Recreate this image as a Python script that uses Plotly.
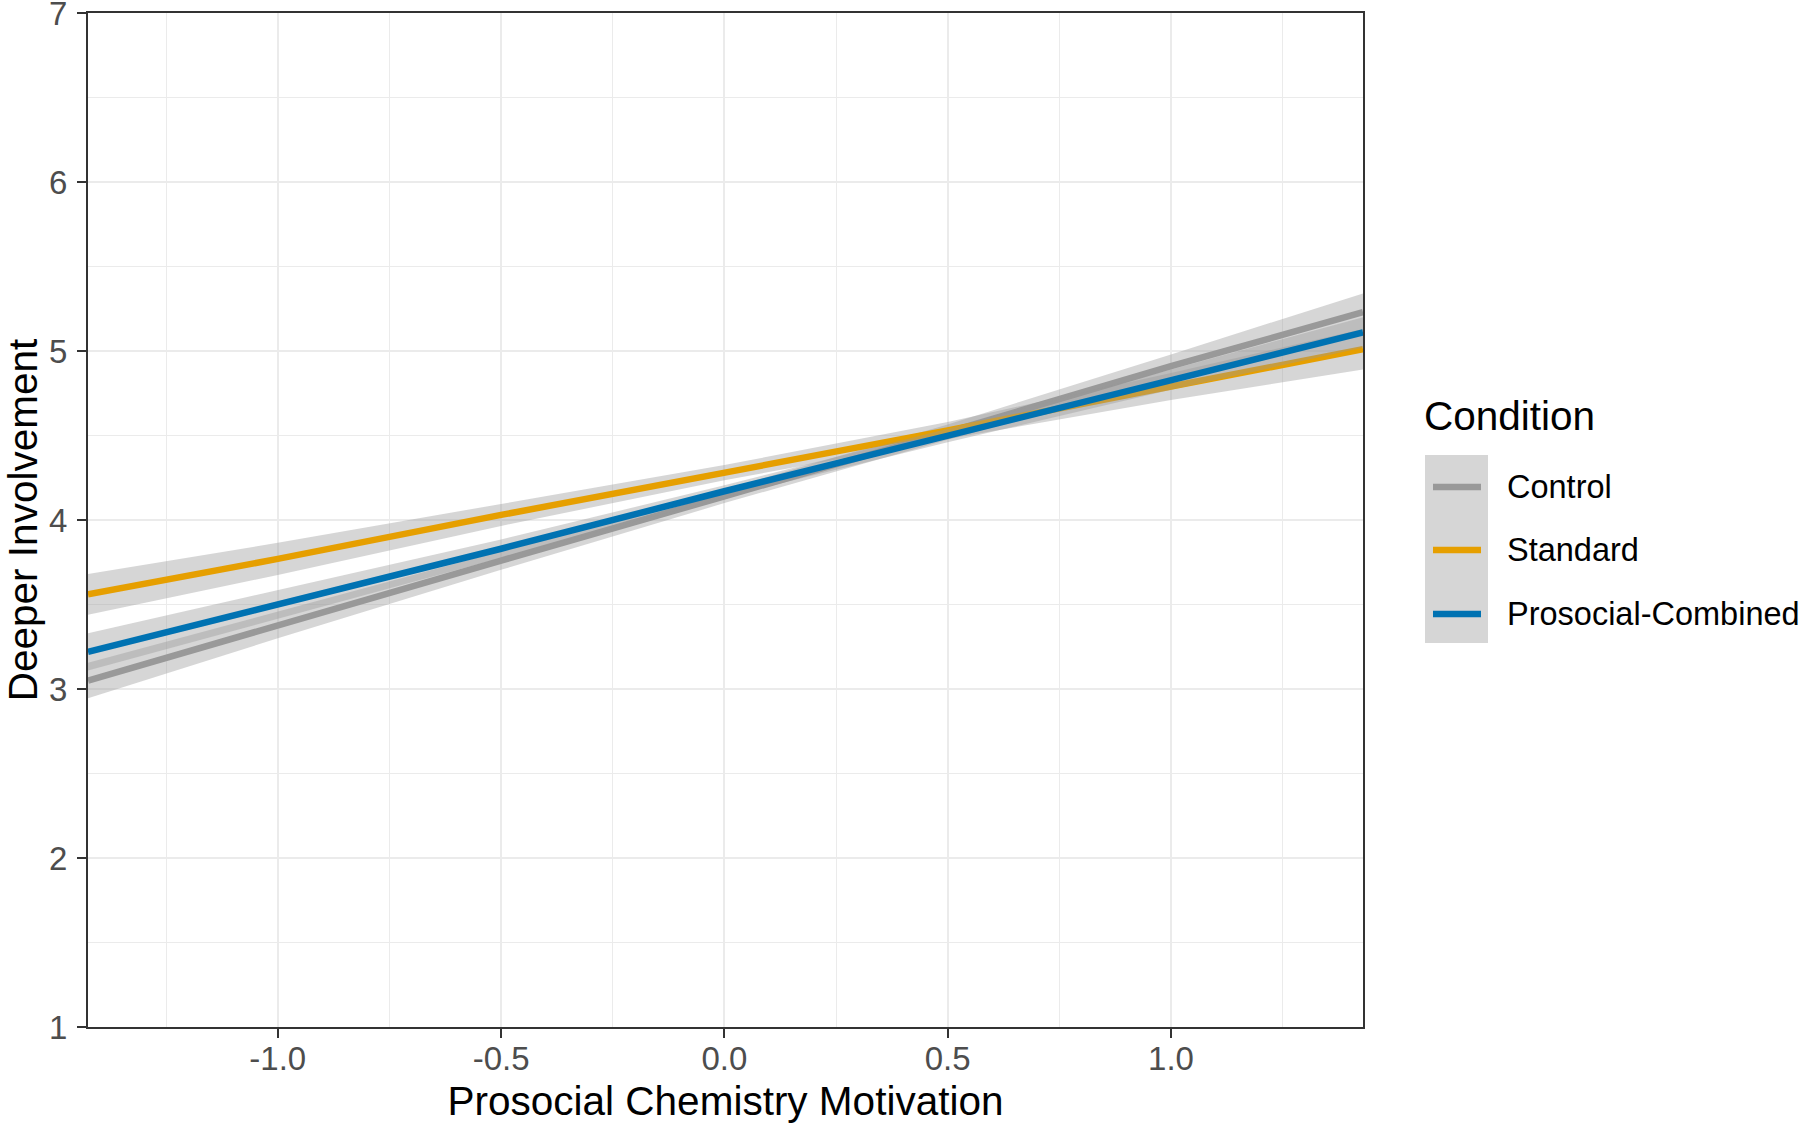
import plotly.graph_objects as go

# ---------------- data ----------------
conditions = ["Control", "Standard", "Prosocial-Combined"]
x_pts = [-1.425, -1.0, -0.5, 0.0, 0.5, 1.0, 1.43]

control_fit = [3.05, 3.38, 3.76, 4.14, 4.52, 4.91, 5.23]
control_lo = [2.945, 3.30, 3.705, 4.10, 4.475, 4.84, 5.12]
control_hi = [3.155, 3.46, 3.815, 4.18, 4.565, 4.98, 5.34]

standard_fit = [3.56, 3.77, 4.03, 4.28, 4.53, 4.79, 5.01]
standard_lo = [3.44, 3.675, 3.965, 4.235, 4.48, 4.71, 4.89]
standard_hi = [3.68, 3.865, 4.095, 4.325, 4.58, 4.87, 5.13]

prosocial_fit = [3.22, 3.50, 3.83, 4.17, 4.50, 4.83, 5.11]
prosocial_lo = [3.11, 3.415, 3.775, 4.135, 4.46, 4.77, 5.02]
prosocial_hi = [3.33, 3.585, 3.885, 4.205, 4.54, 4.89, 5.20]

x_ticks = [-1.0, -0.5, 0.0, 0.5, 1.0]
x_tick_labels = ["-1.0", "-0.5", "0.0", "0.5", "1.0"]
y_ticks = [1, 2, 3, 4, 5, 6, 7]
y_tick_labels = ["1", "2", "3", "4", "5", "6", "7"]

# ---------------- styles ----------------
colors = {"Control": "#999999", "Standard": "#E69F00", "Prosocial-Combined": "#0072B2"}
ribbon_fill = "rgba(153,153,153,0.4)"
FONT = "Liberation Sans, Arial, Helvetica, sans-serif"
W, H = 1800, 1126
ML, MR, MT, MB = 88, 437, 13, 99

series = {
    "Control": (control_fit, control_lo, control_hi),
    "Standard": (standard_fit, standard_lo, standard_hi),
    "Prosocial-Combined": (prosocial_fit, prosocial_lo, prosocial_hi),
}

fig = go.Figure()
for name in conditions:
    fit, lo, hi = series[name]
    fig.add_trace(go.Scatter(x=x_pts, y=lo, mode="lines", line=dict(width=0),
                             showlegend=False, hoverinfo="skip"))
    fig.add_trace(go.Scatter(x=x_pts, y=hi, mode="lines", line=dict(width=0),
                             fill="tonexty", fillcolor=ribbon_fill,
                             showlegend=False, hoverinfo="skip"))
    fig.add_trace(go.Scatter(x=x_pts, y=fit, mode="lines", name=name,
                             line=dict(color=colors[name], width=6.5),
                             showlegend=False))

# ---------------- manual legend (ggplot style) ----------------
pw = W - ML - MR
ph = H - MT - MB


def px_x(p):
    return (p - ML) / pw


def px_y(p):
    return (H - MB - p) / ph


shapes = [dict(type="rect", xref="paper", yref="paper",
               x0=px_x(1425), x1=px_x(1488), y0=px_y(455), y1=px_y(643),
               fillcolor="#d6d6d6", line=dict(width=0), layer="above")]
annotations = [dict(text="Condition", xref="paper", yref="paper",
                    x=px_x(1422), y=px_y(416), xanchor="left", yanchor="middle",
                    showarrow=False, font=dict(family=FONT, size=40.5, color="black"))]
item_y = [487, 550, 614]
for name, yy in zip(conditions, item_y):
    shapes.append(dict(type="line", xref="paper", yref="paper",
                       x0=px_x(1433), x1=px_x(1481), y0=px_y(yy), y1=px_y(yy),
                       line=dict(color=colors[name], width=6.5), layer="above"))
    annotations.append(dict(text=name, xref="paper", yref="paper",
                            x=px_x(1505), y=px_y(yy), xanchor="left", yanchor="middle",
                            showarrow=False,
                            font=dict(family=FONT, size=32.5, color="black")))

axis_common = dict(
    showline=True, linecolor="#333333", linewidth=2, mirror=True,
    ticks="outside", ticklen=9, tickwidth=2, tickcolor="#333333",
    showgrid=True, gridcolor="#ebebeb", gridwidth=2,
    zeroline=False, ticklabeloverflow="allow", automargin=False,
    tickfont=dict(family=FONT, size=33, color="#4d4d4d"),
)

fig.update_layout(
    width=W, height=H,
    margin=dict(l=ML, r=MR, t=MT, b=MB),
    paper_bgcolor="white", plot_bgcolor="white",
    font=dict(family=FONT),
    shapes=shapes, annotations=annotations,
    xaxis=dict(range=[-1.425, 1.43], tickvals=x_ticks, ticktext=x_tick_labels,
               ticklabelstandoff=-8,
               minor=dict(dtick=0.25, tick0=0, showgrid=True, gridcolor="#ebebeb", gridwidth=1),
               title=dict(text="Prosocial Chemistry Motivation",
                          font=dict(family=FONT, size=40.5, color="black"), standoff=11),
               **axis_common),
    yaxis=dict(range=[1, 7], tickvals=y_ticks, ticktext=y_tick_labels,
               ticklabelstandoff=3,
               minor=dict(dtick=0.5, tick0=0, showgrid=True, gridcolor="#ebebeb", gridwidth=1),
               title=dict(text="Deeper Involvement",
                          font=dict(family=FONT, size=40.5, color="black"), standoff=0),
               **axis_common),
)

fig.write_html("out.html",
               config={"displayModeBar": False},
               post_script="document.body.style.margin='0px';")
